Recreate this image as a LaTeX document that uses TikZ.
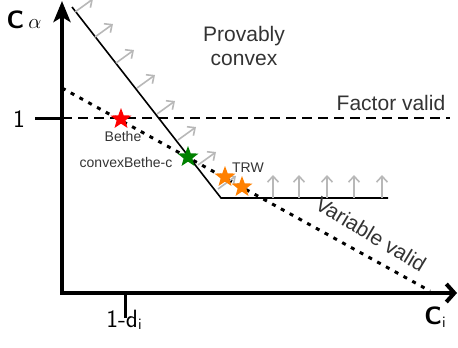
\documentclass[tikz,border=0pt]{standalone}
\usepackage{fontspec}
\newfontfamily\helv{Liberation Sans}
\usetikzlibrary{arrows.meta,shapes.geometric}

\begin{document}
\begin{tikzpicture}[x=1pt, y=-1pt,
    axisline/.style={line width=4pt},
    boundline/.style={line width=1.6pt},
    factorline/.style={line width=2.5pt, dash pattern=on 10pt off 6pt},
    varline/.style={line width=3pt, dash pattern=on 4pt off 6pt},
    pusharrow/.style={black!28, line width=1.6pt, -{Straight Barb[length=6pt,width=11pt]}},
    methodstar/.style={star, star points=5, star point ratio=2.4, minimum size=22pt, inner sep=0pt},
    regionlbl/.style={font=\helv\fontsize{21}{24}\selectfont, text=black!80, align=center},
    methodlbl/.style={font=\helv\fontsize{14}{16}\selectfont, text=black!80},
    axislbl/.style={font=\sffamily\fontsize{25}{26}\selectfont}
]
    \useasboundingbox (0,0) rectangle (458,348);

    \coordinate (O) at (62,293);
    \coordinate (ytop) at (62,1);
    \coordinate (xend) at (457,293);
    \coordinate (one) at (35,118);
    \coordinate (onel) at (62,118);
    \coordinate (oner) at (450,118);
    \coordinate (dtick) at (125,293);
    \coordinate (dbot) at (125,318);

    \coordinate (btop) at (72,7);
    \coordinate (bknee) at (221,198);
    \coordinate (bend) at (388,198);

    \coordinate (vtop) at (62,88);
    \coordinate (vend) at (430,291);

    % validity lines
    \draw[factorline] (onel) -- (oner);
    \draw[varline] (vtop) -- (vend);

    % convexity bound
    \draw[boundline] (btop) -- (bknee) -- (bend);

    \draw[pusharrow] (75,12) -- ++(18,-13);
    \draw[pusharrow] (95,37) -- ++(18,-13);
    \draw[pusharrow] (116,63) -- ++(18,-13);
    \draw[pusharrow] (137,88) -- ++(18,-13);
    \draw[pusharrow] (157,114) -- ++(18,-13);
    \draw[pusharrow] (178,140) -- ++(18,-13);
    \draw[pusharrow] (198,165) -- ++(18,-13);
    \draw[pusharrow] (218,189) -- ++(18,-13);

    \draw[pusharrow] (273,198) -- ++(0,-23);
    \draw[pusharrow] (299,198) -- ++(0,-23);
    \draw[pusharrow] (327,198) -- ++(0,-23);
    \draw[pusharrow] (354,198) -- ++(0,-23);
    \draw[pusharrow] (382,198) -- ++(0,-23);

    % methods
    \node[methodstar, fill=red] (bethe) at (121,119) {};
    \node[methodstar, fill=green!50!black] (cbethe) at (188,157) {};
    \node[methodstar, fill=orange] (trw1) at (225,177) {};
    \node[methodstar, fill=orange] (trw2) at (242,187) {};

    \node[methodlbl] (bethelbl) at (123,136) {Bethe};
    \node[methodlbl] (cbethelbl) at (126,162) {convexBethe-c};
    \node[methodlbl] (trwlbl) at (248,168) {TRW};

    \node[regionlbl] (convex) at (244,46) {Provably\\convex};
    \node[regionlbl] (factorlbl) at (391,103) {Factor valid};
    \node[regionlbl, rotate=-31] (varlbl) at (371,234) {Variable valid};

    % axes
    \draw[axisline, line width=3pt] (one) -- (onel);
    \draw[axisline, line width=3pt] (dtick) -- (dbot);
    \draw[axisline, line join=miter, {Stealth[length=21pt,width=17pt,inset=5pt]}-{Straight Barb[length=8pt,width=18pt]}] (ytop) -- (O) -- (xend);

    \node[axislbl] (calpha) at (24,20) {\bfseries C\,{\fontsize{20}{20}\selectfont$\alpha$}};
    \node[axislbl] (onelbl) at (19,119) {1};
    \node[axislbl] (dlbl) at (124,320) {1-d\raisebox{-2pt}{\fontsize{16}{16}\selectfont i}};
    \node[axislbl] (cilbl) at (435,317) {\bfseries C\raisebox{-3pt}{\mdseries\fontsize{16}{16}\selectfont i}};

\end{tikzpicture}
\end{document}
